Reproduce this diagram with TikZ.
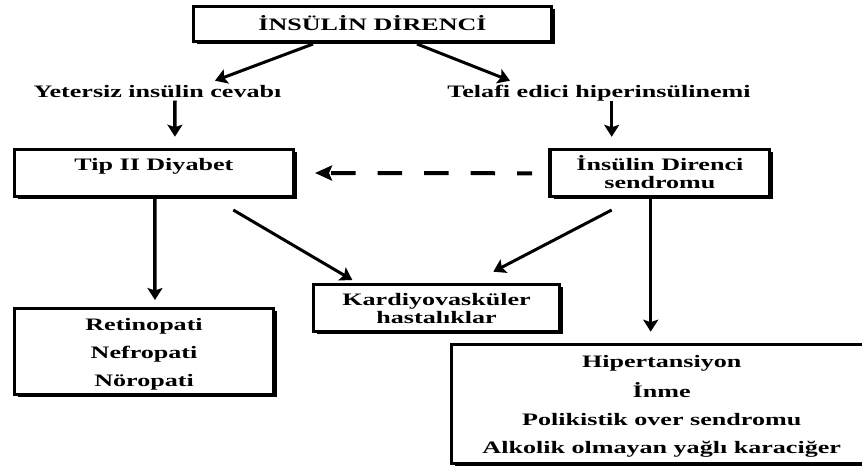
\documentclass[tikz,border=0pt]{standalone}
\usepackage{fontspec}
\setmainfont{Liberation Serif}
\usepackage{graphicx}
\usetikzlibrary{arrows.meta,calc,shadows}
\newcommand\W[1]{\scalebox{1.49}[1]{#1}}
\begin{document}
\begin{tikzpicture}[x=1pt,y=-1pt,
  font=\fontsize{17.5}{18}\selectfont\bfseries,
  box/.style={draw, line width=3.2pt, fill=white, inner sep=0pt, outer sep=0pt, anchor=north west,
    general shadow={fill=black, shadow xshift=3.5pt, shadow yshift=-2.5pt}},
  lbl/.style={inner sep=0pt, outer sep=0pt, anchor=base},
  arr/.style={line width=3.5pt, -{Stealth[length=12pt,width=15pt,inset=2.5pt]}},
  darr/.style={arr, line width=3pt},
  dsh/.style={line width=4pt, dash pattern=on 24.5pt off 22pt, dash phase=9.5pt,
    -{Stealth[length=17pt,width=15pt,inset=3pt]}}]
\fill[white] (0,0) rectangle (862,466);
\useasboundingbox (0,0) rectangle (862,466);
\clip (0,0) rectangle (862,466);

\node[box, minimum width=358pt, text height=23.5pt, text depth=11.5pt] (title) at (193.5,6.5) {\W{İNSÜLİN DİRENCİ}};
\node[lbl] (yet) at (157.5,97) {\W{Yetersiz insülin cevabı}};
\node[lbl] (tel) at (599,97) {\W{Telafi edici hiperinsülinemi}};
\node[box, minimum width=279.2pt, text height=20.8pt, text depth=26.8pt] (tip) at (14.3,149.2) {\W{Tip II Diyabet}};
\node[box, minimum width=219.8pt, text height=20.2pt, text depth=26.8pt] (ins) at (550,149.8)
  {\W{\begin{tabular}[t]{@{}c@{}}İnsülin Direnci\\ sendromu\end{tabular}}};
\node[box, minimum width=259.5pt, text height=21.2pt, text depth=64.8pt] (ret) at (14.3,308.8)
  {\W{\begin{tabular}[t]{@{}c@{}}Retinopati\\[10pt] Nefropati\\[10pt] Nöropati\end{tabular}}};
\node[box, minimum width=246.5pt, text height=20.8pt, text depth=26.5pt] (kar) at (313.3,284.2)
  {\W{\begin{tabular}[t]{@{}c@{}}Kardiyovasküler\\ hastalıklar\end{tabular}}};
\node[box, minimum width=420pt, text height=22.8pt, text depth=96.5pt] (big) at (451.7,344.2)
  {\W{\begin{tabular}[t]{@{}c@{}}Hipertansiyon\\[10pt] İnme\\[10pt] Polikistik over sendromu\\[10pt] Alkolik olmayan yağlı karaciğer\end{tabular}}};

\draw[darr] ($(title.south)+(-59.5,2.5)$) -- ($(yet.base)+(57.5,-16.3)$);
\draw[darr] ($(title.south)+(44.5,2.5)$) -- ($(tel.base)+(-89,-16.3)$);
\draw[arr] ($(yet.base)+(17.5,3.5)$) -- ($(tip.north)+(21,-12.5)$);
\draw[arr] ($(tel.base)+(12.7,3.5)$) -- ($(ins.north)+(-48.2,-13)$);
\draw[dsh] ($(ins.west)+(-18,0)$) -- ($(tip.east)+(21.5,0)$);
\draw[arr] ($(tip.south)+(1,2)$) -- ($(ret.north)+(10.9,-8.8)$);
\draw[darr] ($(tip.south)+(79.4,13.2)$) -- ($(kar.north west)+(39,-4.2)$);
\draw[darr] ($(ins.south)+(-48.2,13.2)$) -- ($(kar.north east)+(-66.5,-12.5)$);
\draw[arr] ($(ins.south)+(-9.2,2)$) -- ($(big.north)+(-11,-12.5)$);
\end{tikzpicture}
\end{document}
